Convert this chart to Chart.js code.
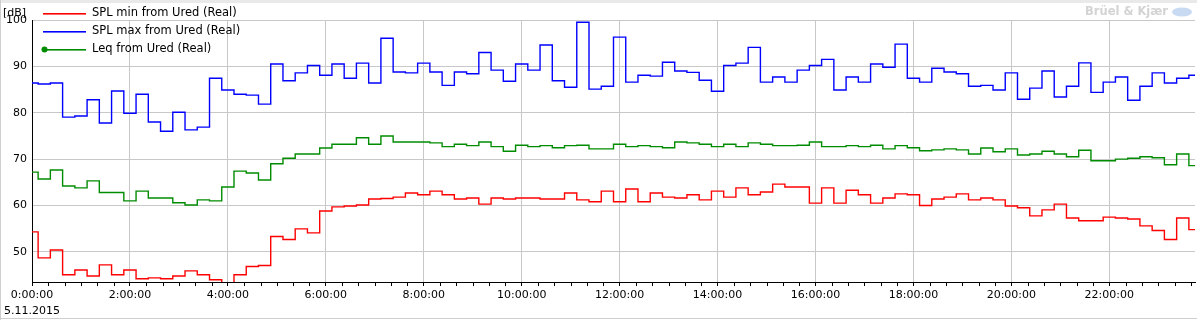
<!DOCTYPE html>
<html>
<head>
<meta charset="utf-8">
<script src="https://cdn.jsdelivr.net/npm/chart.js@4/dist/chart.umd.min.js"></script>
<style>
    html, body { margin: 0; padding: 0; background: #fff; }
    .chart-wrap { position: relative; width: 1197px; height: 320px; }
</style>
</head>
<body>
<div class="chart-wrap"><canvas id="chart"></canvas></div>
<script>
// 15 minute steps, 0:00 .. 23:45 (96 values)
const minutes = Array.from({length: 96}, (_, k) => k * 15);

const splMin = [
    54.3, 48.7, 50.4, 45.05, 46.1, 44.8, 47.2, 45.05, 46.1, 44.2, 44.4, 44.2,
    44.8, 45.9, 45.05, 44.0, 43.0, 45.05, 46.85, 47.05, 53.3, 52.65, 54.95, 54.1,
    58.8, 59.7, 59.9, 60.1, 61.4, 61.5, 61.8, 62.7, 62.3, 63.1, 62.3, 61.4,
    61.6, 60.3, 61.6, 61.4, 61.6, 61.6, 61.4, 61.4, 62.7, 61.2, 60.8, 63.1,
    60.8, 63.55, 60.8, 62.7, 61.8, 61.6, 62.3, 61.2, 63.1, 61.8, 63.8, 62.3,
    62.9, 64.6, 64.0, 64.0, 60.5, 63.8, 60.5, 63.3, 62.3, 60.5, 61.6, 62.5,
    62.3, 60.0, 61.4, 61.8, 62.5, 61.2, 61.6, 61.2, 59.9, 59.5, 57.75, 59.05,
    60.3, 57.3, 56.7, 56.7, 57.5, 57.3, 57.1, 55.6, 54.6, 52.65, 57.3, 54.8
];

const splMax = [
    86.4, 86.2, 86.4, 79.05, 79.3, 82.8, 77.8, 84.7, 79.9, 84.0, 78.0, 76.0,
    80.1, 76.3, 76.9, 87.45, 84.9, 84.0, 83.8, 81.85, 90.5, 86.9, 88.6, 90.2,
    88.1, 90.5, 87.45, 90.7, 86.4, 96.05, 88.8, 88.6, 90.7, 88.8, 85.9, 88.8,
    88.4, 93.0, 89.2, 86.8, 90.5, 89.2, 94.6, 86.9, 85.5, 99.5, 85.1, 85.7,
    96.3, 86.6, 88.1, 87.9, 90.9, 89.0, 88.7, 87.0, 84.65, 90.2, 90.7, 94.1,
    86.6, 87.7, 86.6, 89.2, 90.2, 91.5, 84.9, 87.7, 86.6, 90.5, 89.8, 94.8,
    87.45, 86.6, 89.6, 88.8, 88.4, 85.7, 85.9, 84.9, 88.6, 82.9, 85.3, 89.0,
    83.4, 85.7, 90.75, 84.4, 86.6, 87.7, 82.7, 85.7, 88.6, 86.4, 87.45, 88.1
];

const leq = [
    67.2, 65.7, 67.65, 64.2, 63.8, 65.3, 62.8, 62.8, 61.0, 63.1, 61.6, 61.6,
    60.6, 60.1, 61.2, 61.0, 64.0, 67.4, 67.0, 65.5, 69.0, 70.2, 71.1, 71.1,
    72.4, 73.2, 73.2, 74.6, 73.2, 75.0, 73.7, 73.7, 73.7, 73.5, 72.7, 73.2,
    72.9, 73.7, 72.7, 71.7, 73.0, 72.7, 72.9, 72.45, 72.9, 73.0, 72.2, 72.2,
    73.2, 72.7, 72.9, 72.7, 72.45, 73.7, 73.5, 73.2, 72.7, 73.2, 72.7, 73.5,
    73.2, 72.9, 72.9, 73.0, 73.7, 72.7, 72.7, 72.9, 72.7, 73.0, 72.2, 72.9,
    72.45, 71.8, 72.0, 72.2, 72.0, 71.1, 72.4, 71.6, 72.2, 70.9, 71.1, 71.7,
    71.1, 70.5, 71.9, 69.65, 69.65, 70.0, 70.2, 70.5, 70.3, 68.8, 71.1, 68.6
];

const seriesLabels = ["SPL min from Ured (Real)", "SPL max from Ured (Real)", "Leq from Ured (Real)"];
const seriesColors = ["#ff0000", "#0000ff", "#008c00"];
const xTickMinutes = [0, 120, 240, 360, 480, 600, 720, 840, 960, 1080, 1200, 1320];
const xTickLabels = ["0:00:00", "2:00:00", "4:00:00", "6:00:00", "8:00:00", "10:00:00",
    "12:00:00", "14:00:00", "16:00:00", "18:00:00", "20:00:00", "22:00:00"];
const dateLabel = "5.11.2015";
const yTicks = [50, 60, 70, 80, 90, 100];
const yUnit = "[dB]";
const brand = "Brüel & Kjær";

const FONT = "'DejaVu Sans', Verdana, sans-serif";

function toPoints(values) {
    return values.map((v, i) => ({x: minutes[i], y: v}));
}

// frame, legend, minor ticks, watermark
const decorations = {
    id: 'decorations',
    beforeDraw(chart) {
        const ctx = chart.ctx;
        ctx.save();
        ctx.fillStyle = '#fff';
        ctx.fillRect(0, 0, chart.width, chart.height);
        ctx.restore();
    },
    afterDraw(chart) {
        const ctx = chart.ctx;
        const x = chart.scales.x;
        const area = chart.chartArea;
        ctx.save();

        // minor ticks every 20 min
        ctx.strokeStyle = '#000';
        ctx.lineWidth = 1;
        ctx.beginPath();
        for (let m = 20; m <= x.max; m += 20) {
            if (m % 120 === 0) continue;
            const px = Math.round(x.getPixelForValue(m)) + 0.5;
            ctx.moveTo(px, area.bottom);
            ctx.lineTo(px, area.bottom + 4);
        }
        ctx.stroke();

        // window frame
        ctx.fillStyle = '#e9e9e9';
        ctx.fillRect(0, 0, chart.width, 3);
        ctx.fillStyle = '#cfcfcf';
        ctx.fillRect(0, 0, 1, chart.height);
        ctx.fillRect(0, 318, chart.width, 1);

        // unit label
        ctx.fillStyle = '#000';
        ctx.font = '11px ' + FONT;
        ctx.textBaseline = 'middle';
        ctx.textAlign = 'left';
        ctx.fillText(yUnit, 3, 13.5);

        // legend
        seriesLabels.forEach((label, i) => {
            const ly = 13.5 + i * 18;
            ctx.fillStyle = seriesColors[i];
            ctx.fillRect(43, Math.round(ly) - 1, 43, 1.6);
            if (i === 2) {
                ctx.beginPath();
                ctx.arc(44.5, ly, 3, 0, Math.PI * 2);
                ctx.fill();
            }
            ctx.fillStyle = '#000';
            ctx.font = '11.5px ' + FONT;
            ctx.fillText(label, 92, ly);
        });

        // watermark
        ctx.font = 'bold 11.5px ' + FONT;
        ctx.fillStyle = '#d3d3d3';
        ctx.textAlign = 'right';
        ctx.fillText(brand, 1168, 12.5);
        ctx.fillStyle = '#c8daf2';
        ctx.beginPath();
        ctx.ellipse(1182, 12, 10, 4.5, 0, 0, Math.PI * 2);
        ctx.fill();

        ctx.restore();
    }
};

let chart = null;

function drawChart() {
    const main_ctx = document.getElementById('chart');

    const datasets = [splMin, splMax, leq].map((values, i) => ({
        label: seriesLabels[i],
        data: toPoints(values),
        borderColor: seriesColors[i],
        borderWidth: 1.4,
        stepped: 'middle',
        pointRadius: 0,
        fill: false
    }));

    chart = new Chart(main_ctx, {
        type: 'line',
        data: {datasets: datasets},
        plugins: [decorations],
        options: {
            responsive: true,
            maintainAspectRatio: false,
            animation: false,
            layout: {padding: {top: 20, right: 2, bottom: 0, left: 0}},
            scales: {
                x: {
                    type: 'linear',
                    min: 0,
                    max: 1425,
                    afterBuildTicks: (scale) => {
                        scale.ticks = xTickMinutes.map(v => ({value: v}));
                    },
                    afterFit: (scale) => { scale.height = 38; },
                    grid: {color: '#c8c8c8', tickColor: '#000', tickLength: 4},
                    border: {color: '#000'},
                    ticks: {
                        autoSkip: false,
                        maxRotation: 0,
                        padding: 1,
                        color: '#000',
                        font: {size: 11, family: FONT, lineHeight: 16 / 11},
                        callback: (value) => {
                            const label = xTickLabels[xTickMinutes.indexOf(value)];
                            return value === 0 ? [label, dateLabel] : label;
                        }
                    }
                },
                y: {
                    min: 43.5,
                    max: 100,
                    afterBuildTicks: (scale) => {
                        scale.ticks = yTicks.map(v => ({value: v}));
                    },
                    afterFit: (scale) => { scale.width = 32; },
                    grid: {color: '#c8c8c8', drawTicks: false},
                    border: {color: '#000'},
                    ticks: {
                        padding: 5,
                        color: '#000',
                        font: {size: 11, family: FONT}
                    }
                }
            },
            plugins: {
                legend: {display: false},
                tooltip: {enabled: false}
            },
            elements: {
                point: {radius: 0}
            }
        }
    });
}

drawChart();
</script>
</body>
</html>
